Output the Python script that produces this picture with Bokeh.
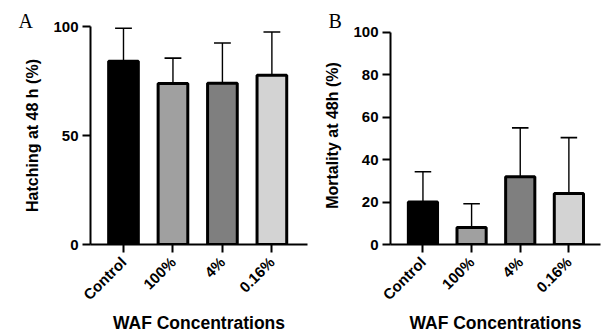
import math
from bokeh.plotting import figure
from bokeh.layouts import row
from bokeh.models import Range1d, FixedTicker, Title
from bokeh.embed import file_html
from bokeh.resources import INLINE

categories = ["Control", "100%", "4%", "0.16%"]
colors = ["#000000", "#a0a0a0", "#7f7f7f", "#d3d3d3"]
hatching_mean = [84.1, 73.8, 74.0, 77.6]
hatching_sd = [15.1, 11.7, 18.4, 19.9]
mortality_mean = [20.0, 8.0, 32.0, 24.0]
mortality_sd = [14.3, 11.2, 23.0, 26.4]
hatching_ticks = [0, 50, 100]
mortality_ticks = [0, 20, 40, 60, 80, 100]

FONT = "Liberation Sans"
TOP = 26
BOTTOM = 92


def panel(means, sds, ticks, ylabel, letter, width, left, right, ymax, xmax, loff):
    xs = list(range(len(categories)))
    p = figure(width=width, height=336, output_backend="svg", toolbar_location=None,
               x_range=Range1d(-0.667, xmax), y_range=Range1d(0, ymax),
               min_border_left=left, min_border_right=right,
               min_border_top=TOP, min_border_bottom=BOTTOM)
    p.outline_line_color = None
    p.grid.visible = False
    p.background_fill_color = "white"
    p.border_fill_color = "white"
    uppers = [m + s for m, s in zip(means, sds)]
    p.segment(x0=xs, y0=means, x1=xs, y1=uppers, line_color="black", line_width=1.4)
    p.segment(x0=[x - 0.17 for x in xs], y0=uppers, x1=[x + 0.17 for x in xs], y1=uppers,
              line_color="black", line_width=1.6)
    p.vbar(x=xs, top=means, bottom=0, width=0.6, fill_color=colors,
           line_color="black", line_width=3)
    for ax in (p.xaxis[0], p.yaxis[0]):
        ax.axis_line_width = 2
        ax.major_tick_line_width = 2
        ax.major_tick_out = 8
        ax.major_tick_in = 0
        ax.minor_tick_line_color = None
        ax.major_label_text_font = FONT
        ax.major_label_text_font_style = "bold"
        ax.major_label_text_font_size = "15px"
        ax.major_label_text_color = "black"
        ax.axis_label_text_font = FONT
        ax.axis_label_text_font_style = "bold"
        ax.axis_label_text_color = "black"
    p.xaxis.ticker = FixedTicker(ticks=xs)
    p.xaxis.major_label_overrides = {i: c for i, c in enumerate(categories)}
    p.xaxis.major_label_orientation = math.pi / 4
    p.xaxis.major_label_standoff = 7
    p.xaxis.axis_label = "WAF Concentrations"
    p.xaxis.axis_label_text_font_size = "17.5px"
    p.xaxis.axis_label_standoff = 1
    p.yaxis.ticker = FixedTicker(ticks=ticks)
    p.yaxis.bounds = (0, 100)
    p.yaxis.axis_label = ylabel
    p.yaxis.axis_label_text_font_size = "16px"
    p.yaxis.axis_label_standoff = 9
    p.yaxis.major_label_standoff = 4
    p.title = Title(text=letter, align="left", offset=loff, standoff=-10,
                    text_font="Liberation Serif", text_font_size="20px",
                    text_font_style="normal", text_color="black")
    return p


pa = panel(hatching_mean, hatching_sd, hatching_ticks, "Hatching at 48 h (%)", "A",
           310, 90, 3, 100, 3.72, -72)
pb = panel(mortality_mean, mortality_sd, mortality_ticks, "Mortality at 48h (%)", "B",
           292, 80, 2, 102.8, 3.65, -62)

layout = row(pa, pb)
open("out.html", "w").write(file_html(layout, INLINE))
